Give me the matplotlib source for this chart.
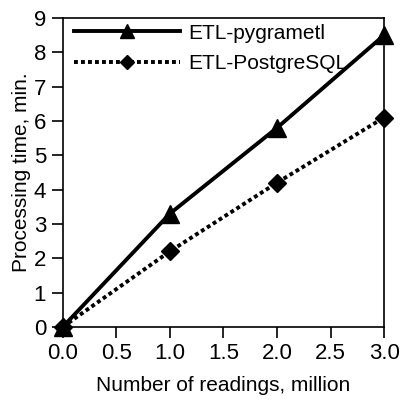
import matplotlib
matplotlib.use("Agg")
import matplotlib.pyplot as plt

plt.rcParams['font.family'] = ['Liberation Sans', 'DejaVu Sans']

readings = [0.0, 1.0, 2.0, 3.0]
pygrametl = [0.0, 3.3, 5.8, 8.5]
postgres = [0.0, 2.2, 4.2, 6.1]
xticks = [0.0, 0.5, 1.0, 1.5, 2.0, 2.5, 3.0]
yticks = list(range(0, 10))

fig = plt.figure(figsize=(4.03, 4.01), dpi=100)
ax = fig.add_axes([0.156, 0.185, 0.797, 0.770])

ax.plot(readings, pygrametl, color='black', lw=2.8, marker='^', ms=13,
        label='ETL-pygrametl', clip_on=False, zorder=3)
ax.plot(readings, postgres, color='black', lw=2.8, ls=(0, (1, 0.8)), marker='D', ms=9,
        label='ETL-PostgreSQL', clip_on=False, zorder=3)

ax.set_xlim(0, 3)
ax.set_ylim(0, 9)
ax.set_xticks(xticks)
ax.set_xticklabels([f"{v:.1f}" for v in xticks])
ax.set_yticks(yticks)
ax.tick_params(labelsize=16, length=8, width=1.2, direction='out', pad=4)
for s in ax.spines.values():
    s.set_linewidth(1.2)

ax.set_xlabel('Number of readings, million', fontsize=15, labelpad=8)
ax.set_ylabel('Processing time, min.', fontsize=15, labelpad=2)

leg = ax.legend(loc='upper left', bbox_to_anchor=(0.031, 0.985), frameon=False,
                fontsize=15, handlelength=5.1, markerscale=0.75,
                borderaxespad=0, labelspacing=0.55, handletextpad=0.4,
                borderpad=0.05)

fig.savefig('out.png', dpi=100)
